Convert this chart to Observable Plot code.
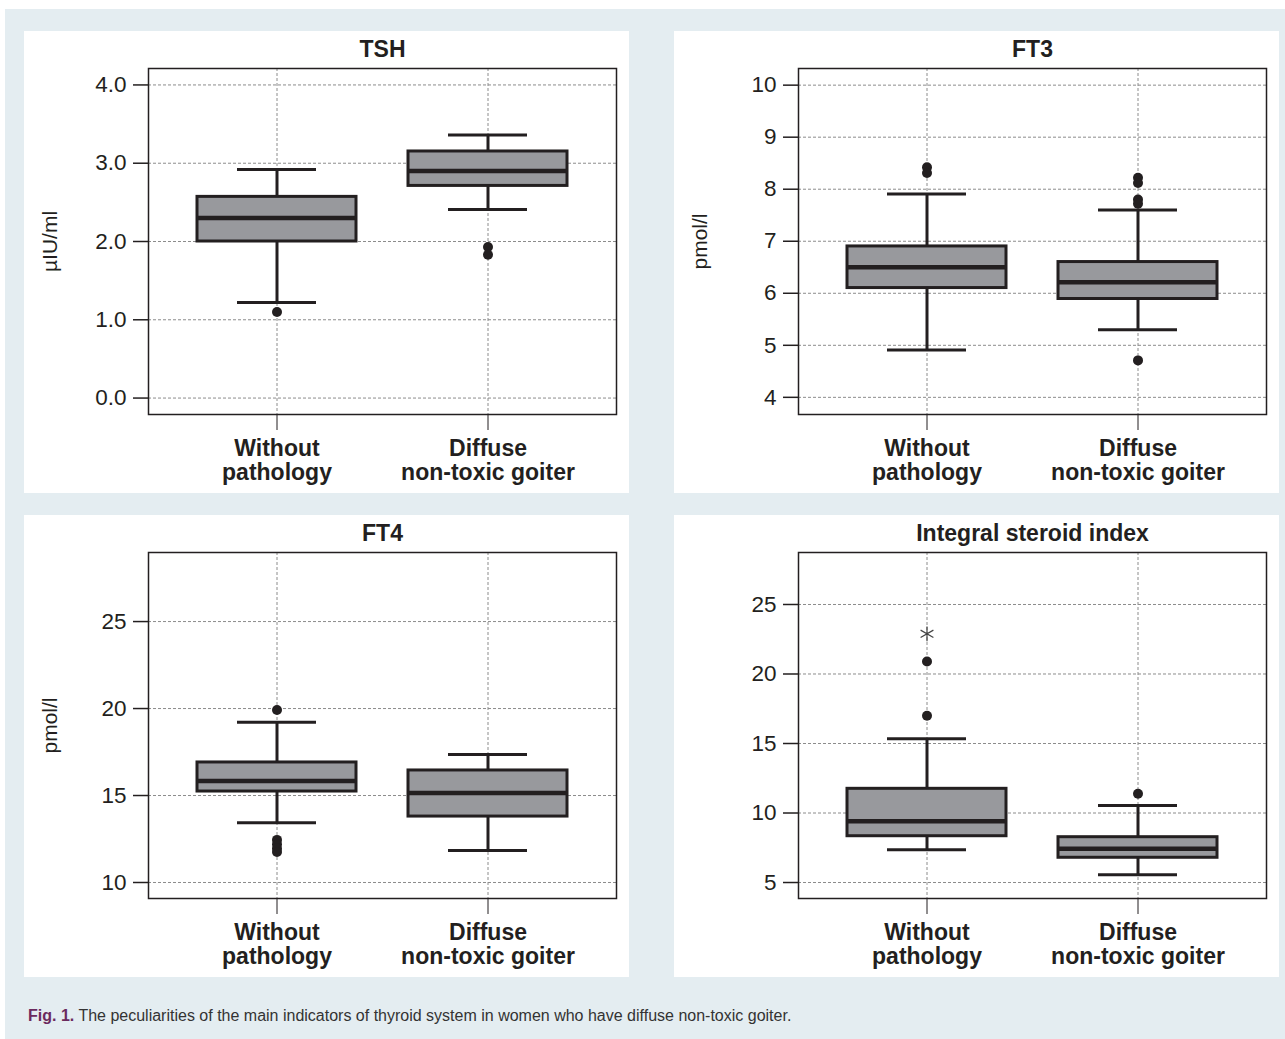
<!DOCTYPE html>
<html>
<head>
<meta charset="utf-8">
<script src="https://cdn.jsdelivr.net/npm/d3@7"></script>
<script src="https://cdn.jsdelivr.net/npm/@observablehq/plot@0.6"></script>
<style>
  body { margin: 0; background: #ffffff; width: 1285px; height: 1039px; position: relative; overflow: hidden; }
  #bg { position: absolute; left: 5px; top: 9px; width: 1280px; height: 1030px; background: #e4edf1; }
  .panel { position: absolute; width: 605px; height: 462px; background: #ffffff; }
  .panel svg { display: block; }
  #caption { position: absolute; left: 28px; top: 1007px; font-family: "Liberation Sans Narrow", "Arial Narrow", "Liberation Sans", sans-serif; font-size: 16px; color: #333333; white-space: nowrap; }
  #caption b { color: #6b2a5e; }
</style>
</head>
<body>
<div id="bg"></div>
<div class="panel" id="p1" style="left:24px; top:31px;"></div>
<div class="panel" id="p2" style="left:674px; top:31px;"></div>
<div class="panel" id="p3" style="left:24px; top:515px;"></div>
<div class="panel" id="p4" style="left:674px; top:515px;"></div>
<div id="caption"><b>Fig. 1.</b> The peculiarities of the main indicators of thyroid system in women who have diffuse non-toxic goiter.</div>
<script>
// ---- categories and tick labels ----
const categories = ["Without pathology", "Diffuse non-toxic goiter"];
const categoryLabels = ["Without\npathology", "Diffuse\nnon-toxic goiter"];

// ---- five-number summaries: [lower whisker, Q1, median, Q3, upper whisker] ----
// TSH (µIU/ml)
const tshWithout = [1.22, 2.00, 2.30, 2.57, 2.92];
const tshDiffuse = [2.41, 2.71, 2.90, 3.15, 3.36];
const tshOutWithout = [1.10];
const tshOutDiffuse = [1.93, 1.83];
const tshTicks = [0, 1, 2, 3, 4];

// FT3 (pmol/l)
const ft3Without = [4.91, 6.10, 6.50, 6.90, 7.91];
const ft3Diffuse = [5.30, 5.89, 6.21, 6.60, 7.60];
const ft3OutWithout = [8.42, 8.31];
const ft3OutDiffuse = [8.22, 8.12, 7.80, 7.72, 4.71];
const ft3Ticks = [4, 5, 6, 7, 8, 9, 10];

// FT4 (pmol/l)
const ft4Without = [13.43, 15.23, 15.84, 16.90, 19.21];
const ft4Diffuse = [11.84, 13.79, 15.14, 16.44, 17.36];
const ft4OutWithout = [19.92, 12.45, 12.2, 11.95, 11.75];
const ft4OutDiffuse = [];
const ft4Ticks = [10, 15, 20, 25];

// Integral steroid index
const isiWithout = [7.35, 8.33, 9.41, 11.74, 15.34];
const isiDiffuse = [5.55, 6.78, 7.42, 8.26, 10.54];
const isiOutWithout = [20.9, 16.99];
const isiOutDiffuse = [11.38];
const isiExtremeWithout = [22.89];
const isiTicks = [5, 10, 15, 20, 25];

const INK = "#231f20";
const BOX = "#98999d";
const GRID = "#8c8c8c";

function drawPanel(el, o) {
  const boxes = [o.without, o.diffuse].map((s, i) => ({
    g: categories[i], lo: s[0], q1: s[1], med: s[2], q3: s[3], hi: s[4]
  }));
  const outs = [
    ...o.outW.map(v => ({g: categories[0], v})),
    ...o.outD.map(v => ({g: categories[1], v}))
  ];
  const extremes = (o.extW || []).map(v => ({g: categories[0], v}));
  const labelOf = d => categoryLabels[categories.indexOf(d)];
  const plot = Plot.plot({
    width: 605,
    height: 462,
    marginLeft: 124,
    marginRight: 13,
    marginTop: 37,
    marginBottom: 79,
    style: {fontFamily: "'Liberation Sans', Arial, Helvetica, sans-serif", color: INK, background: "transparent", overflow: "visible"},
    x: {type: "band", domain: categories, paddingInner: 0.2464, paddingOuter: 0.232, axis: null, label: null},
    y: {domain: o.domain, axis: null, label: null},
    marks: [
      Plot.gridY(o.ticks, {stroke: GRID, strokeOpacity: 1, strokeWidth: 1, strokeDasharray: "3,2"}),
      Plot.gridX(categories, {stroke: GRID, strokeOpacity: 1, strokeWidth: 1, strokeDasharray: "3,2"}),
      Plot.ruleX(boxes, {x: "g", y1: "lo", y2: "hi", stroke: INK, strokeWidth: 3}),
      Plot.tickY(boxes, {x: "g", y: "lo", stroke: INK, strokeWidth: 3, insetLeft: 40, insetRight: 40}),
      Plot.tickY(boxes, {x: "g", y: "hi", stroke: INK, strokeWidth: 3, insetLeft: 40, insetRight: 40}),
      Plot.barY(boxes, {x: "g", y1: "q1", y2: "q3", fill: BOX, stroke: INK, strokeWidth: 3, inset: 0}),
      Plot.tickY(boxes, {x: "g", y: "med", stroke: INK, strokeWidth: 4.5}),
      Plot.dot(outs, {x: "g", y: "v", r: 5, fill: INK, stroke: "none"}),
      Plot.dot(extremes, {x: "g", y: "v", r: 7, symbol: "asterisk", stroke: "#444", strokeWidth: 1.2, fill: "none"}),
      Plot.frame({stroke: INK, strokeWidth: 1.5}),
      Plot.axisY(o.ticks, {tickSize: 15, tickPadding: 7, fontSize: 22.5, strokeWidth: 1.5, tickFormat: o.fmt, label: null}),
      Plot.axisX(categories, {tickSize: 16, tickPadding: 8, fontSize: 23, fontWeight: "bold", lineHeight: 1.045, tickFormat: labelOf, label: null}),
      Plot.text([o.ylabel], {frameAnchor: "left", dx: -98, rotate: -90, textAnchor: "middle", fontSize: 21, fill: INK}),
      Plot.text([o.title], {frameAnchor: "top", dy: -12, lineAnchor: "bottom", fontSize: 23, fontWeight: "bold", fill: INK})
    ]
  });
  document.getElementById(el).appendChild(plot);
}

drawPanel("p1", {title: "TSH", ylabel: "µIU/ml", domain: [-0.21, 4.21], ticks: tshTicks, fmt: d3.format(".1f"),
  without: tshWithout, diffuse: tshDiffuse, outW: tshOutWithout, outD: tshOutDiffuse});
drawPanel("p2", {title: "FT3", ylabel: "pmol/l", domain: [3.67, 10.32], ticks: ft3Ticks, fmt: d3.format("d"),
  without: ft3Without, diffuse: ft3Diffuse, outW: ft3OutWithout, outD: ft3OutDiffuse});
drawPanel("p3", {title: "FT4", ylabel: "pmol/l", domain: [9.08, 28.97], ticks: ft4Ticks, fmt: d3.format("d"),
  without: ft4Without, diffuse: ft4Diffuse, outW: ft4OutWithout, outD: ft4OutDiffuse});
drawPanel("p4", {title: "Integral steroid index", ylabel: "", domain: [3.85, 28.74], ticks: isiTicks, fmt: d3.format("d"),
  without: isiWithout, diffuse: isiDiffuse, outW: isiOutWithout, outD: isiOutDiffuse, extW: isiExtremeWithout});
</script>
</body>
</html>
